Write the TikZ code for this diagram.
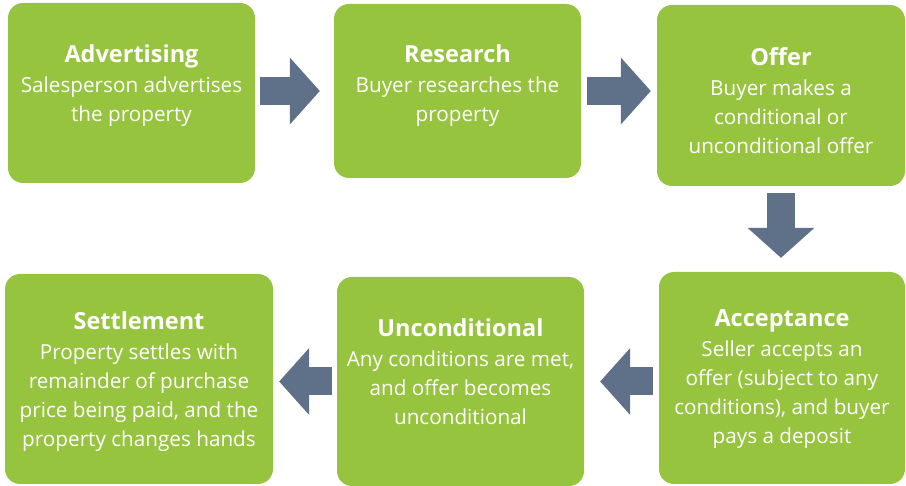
\documentclass[tikz,border=0pt]{standalone}
\usepackage{fontspec}
\setmainfont{Open Sans}
\usetikzlibrary{arrows.meta, positioning}

\definecolor{stagegreen}{HTML}{96C43E}
\definecolor{flowgrey}{HTML}{5F7089}

\tikzset{
  stage/.style={fill=stagegreen, rounded corners=15pt, inner sep=0pt},
  stagetext/.style={text=white, align=center, inner sep=0pt, font=\fontsize{20.7}{29}\selectfont},
  flow/.style={draw=flowgrey, line width=28pt, -{Triangle[width=67pt,length=30pt,line width=0pt]}},
}
\newcommand{\stagetitle}[1]{{\fontsize{23.5}{29}\selectfont\bfseries #1}\\[1pt]}

\begin{document}
\begin{tikzpicture}[x=1pt,y=-1pt]
  \useasboundingbox (0,0) rectangle (906,486);
  % top row
  \node[stage, minimum width=247pt, minimum height=180pt] (adv) at (131.5,93) {};
  \node[stage, minimum width=247pt, minimum height=174pt] (res) at (457.5,91) {};
  \node[stage, minimum width=248pt, minimum height=181pt] (off) at (781,95.5) {};
  % bottom row
  \node[stage, minimum width=246pt, minimum height=212pt] (acc) at (782,378) {};
  \node[stage, minimum width=247pt, minimum height=209pt] (unc) at (460.5,381.5) {};
  \node[stage, minimum width=268pt, minimum height=210pt] (settle) at (139,379) {};

  \node[stagetext, below=42pt of adv.north] (advtext)
    {\stagetitle{Advertising} Salesperson advertises\\ the property};
  \node[stagetext, below=41pt of res.north] (restext)
    {\stagetitle{Research} Buyer researches the\\ property};
  \node[stagetext, below=43pt of off.north] (offtext)
    {\stagetitle{Offer} Buyer makes a\\ conditional or\\ unconditional offer};
  \node[stagetext, below=38pt of acc.north] (acctext)
    {\stagetitle{Acceptance} Seller accepts an\\ offer (subject to any\\ conditions), and buyer\\ pays a deposit};
  \node[stagetext, below=42pt of unc.north] (unctext)
    {\stagetitle{Unconditional} Any conditions are met,\\ and offer becomes\\ unconditional};
  \node[stagetext, below=38pt of settle.north] (settletext)
    {\stagetitle{Settlement} Property settles with\\ remainder of purchase\\ price being paid, and the\\ property changes hands};

  % arrows
  \draw[flow, shorten <=5pt, shorten >=14pt] (res.west -| adv.east) -- (res.west);
  \draw[flow, shorten <=6pt, shorten >=6pt] (res.east) -- (res.east -| off.west);
  \draw[flow, shorten <=7pt, shorten >=14pt] (off.south) -- (off.south |- acc.north);
  \draw[flow, shorten <=6pt, shorten >=16pt] (unc.east -| acc.west) -- (unc.east);
  \draw[flow, shorten <=5pt, shorten >=6pt] (unc.west) -- (unc.west -| settle.east);
\end{tikzpicture}
\end{document}
